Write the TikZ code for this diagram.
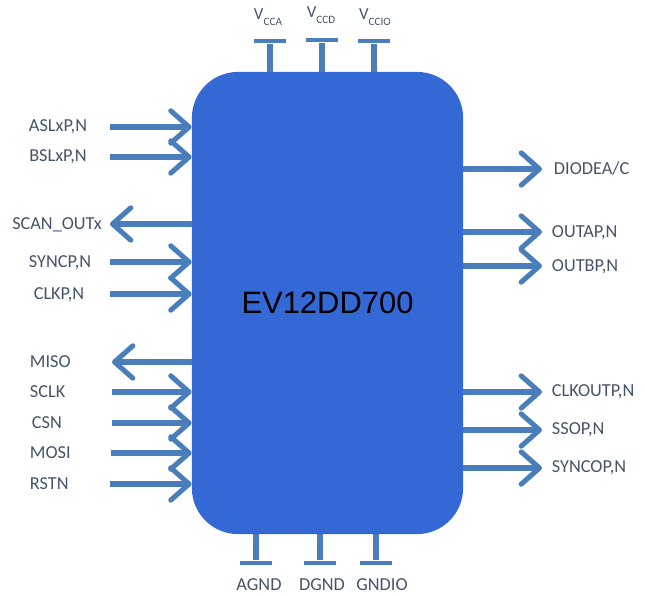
\documentclass[tikz,border=0pt]{standalone}
\usepackage{fontspec}
\newfontfamily\pinfont{Carlito}
\newfontfamily\chipfont{Liberation Sans}
\usetikzlibrary{arrows.meta,positioning}
\definecolor{chipblue}{RGB}{52,104,212}
\definecolor{wireblue}{RGB}{74,126,187}
\definecolor{pintext}{RGB}{68,84,106}

\begin{document}
\begin{tikzpicture}[x=0.025cm, y=-0.025cm,
  every node/.style={font=\pinfont\fontsize{13}{15}\selectfont, text=pintext},
  chip/.style={fill=chipblue, rectangle, rounded corners=1.15cm,
               minimum width=6.78cm, minimum height=11.55cm,
               font=\chipfont\fontsize{22}{26}\selectfont, text=black},
  tbar/.style={fill=wireblue, rectangle, inner sep=0pt,
               minimum width=0.82cm, minimum height=0.12cm},
  stem/.style={draw=wireblue, line width=3.6pt},
  sig/.style={draw=wireblue, line width=3.6pt,
              -{Straight Barb[length=13pt,width=23pt,line join=round,line cap=round]}},
  vlbl/.style={font=\pinfont\fontsize{12}{14}\selectfont},
  lin/.style={anchor=center},
  rin/.style={anchor=west}]

\useasboundingbox (0,0) rectangle (645,596);

%% ---- CHIP ----
\node[chip] (chip) at (327.5,303) {EV12DD700};

%% ---- SUPPLY PINS (top) ----
\node[tbar] (vcca)  at (270,41) {};
\node[tbar] (vccd)  at (322,40) {};
\node[tbar] (vccio) at (374,41) {};
\draw[stem] (vcca)  -- (vcca  |- chip.north);
\draw[stem] (vccd)  -- (vccd  |- chip.north);
\draw[stem] (vccio) -- (vccio |- chip.north);
\node[vlbl] (lvcca)  at (268,17) {V\raisebox{-0.8ex}{\fontsize{8}{9}\selectfont CCA}};
\node[vlbl] (lvccd)  at (321,15) {V\raisebox{-0.8ex}{\fontsize{8}{9}\selectfont CCD}};
\node[vlbl] (lvccio) at (375,17) {V\raisebox{-0.8ex}{\fontsize{8}{9}\selectfont CCIO}};

%% ---- GROUND PINS (bottom) ----
\node[tbar] (agnd)  at (256,563) {};
\node[tbar] (dgnd)  at (320,563) {};
\node[tbar] (gndio) at (376,563) {};
\draw[stem] (agnd)  -- (agnd  |- chip.south);
\draw[stem] (dgnd)  -- (dgnd  |- chip.south);
\draw[stem] (gndio) -- (gndio |- chip.south);
\node (lagnd)  at (259,585) {AGND};
\node (ldgnd)  at (322,585) {DGND};
\node (lgndio) at (382,585) {GNDIO};

%% ---- LEFT SIDE ----
\coordinate (asl)  at (110,127);
\coordinate (bsl)  at (110,157);
\coordinate (scan) at (110,224);
\coordinate (sync) at (110,262);
\coordinate (clk)  at (110,294);
\coordinate (miso) at (112,362);
\coordinate (sclk) at (112,392);
\coordinate (csn)  at (112,423);
\coordinate (mosi) at (111,453);
\coordinate (rstn) at (110,484);

\draw[sig] (asl)  -- (chip.west |- asl);
\draw[sig] (bsl)  -- (chip.west |- bsl);
\draw[sig] (chip.west |- scan) -- (scan);
\draw[sig] (sync) -- (chip.west |- sync);
\draw[sig] (clk)  -- (chip.west |- clk);
\draw[sig] (chip.west |- miso) -- (miso);
\draw[sig] (sclk) -- (chip.west |- sclk);
\draw[sig] (csn)  -- (chip.west |- csn);
\draw[sig] (mosi) -- (chip.west |- mosi);
\draw[sig] (rstn) -- (chip.west |- rstn);

\node[lin] (lasl)  at (58,127) {ASLxP,N};
\node[lin] (lbsl)  at (58,157) {BSLxP,N};
\node[lin] (lscan) at (57,225) {SCAN\_OUTx};
\node[lin] (lsync) at (60,263) {SYNCP,N};
\node[lin] (lclk)  at (59,295) {CLKP,N};
\node[rin] (lmiso) at (25,362) {MISO};
\node[rin] (lsclk) at (25,392) {SCLK};
\node[rin] (lcsn)  at (27,423) {CSN};
\node[rin] (lmosi) at (25,453) {MOSI};
\node[rin] (lrstn) at (25,484) {RSTN};

%% ---- RIGHT SIDE ----
\coordinate (diode)  at (542,169);
\coordinate (outa)   at (542,232);
\coordinate (outb)   at (542,266);
\coordinate (clkout) at (542,392);
\coordinate (ssop)   at (542,430);
\coordinate (syncop) at (542,468);

\draw[sig] (chip.east |- diode)  -- (diode);
\draw[sig] (chip.east |- outa)   -- (outa);
\draw[sig] (chip.east |- outb)   -- (outb);
\draw[sig] (chip.east |- clkout) -- (clkout);
\draw[sig] (chip.east |- ssop)   -- (ssop);
\draw[sig] (chip.east |- syncop) -- (syncop);

\node[rin] (ldiode)  at (549,169) {DIODEA/C};
\node[rin] (louta)   at (547,233) {OUTAP,N};
\node[rin] (loutb)   at (547,267) {OUTBP,N};
\node[rin] (lclkout) at (547,392) {CLKOUTP,N};
\node[rin] (lssop)   at (547,430) {SSOP,N};
\node[rin] (lsyncop) at (547,468) {SYNCOP,N};
\end{tikzpicture}
\end{document}
